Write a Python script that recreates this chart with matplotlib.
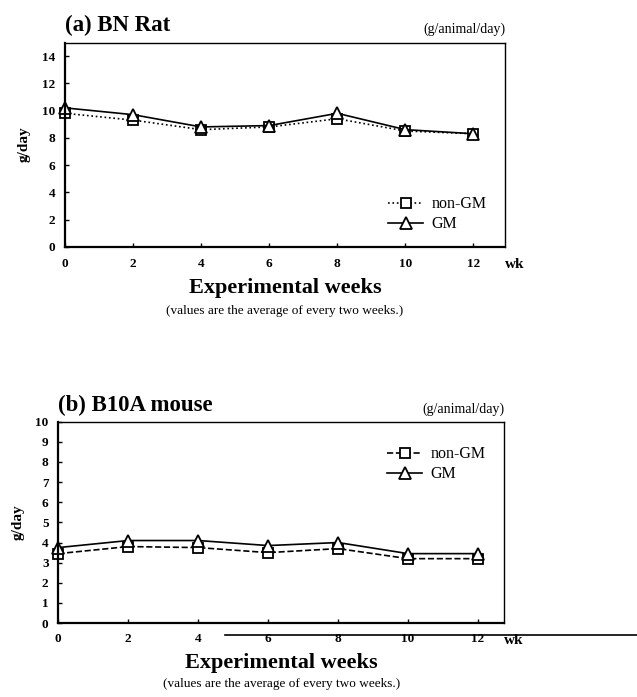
import matplotlib

matplotlib.use("Agg")

import matplotlib.pyplot as plt
from matplotlib.lines import Line2D

plt.rcParams["font.family"] = ["Liberation Serif", "DejaVu Serif"]

weeks = [0, 2, 4, 6, 8, 10, 12]

rat_non_gm = [9.8, 9.3, 8.6, 8.8, 9.4, 8.5, 8.3]
rat_gm = [10.2, 9.7, 8.8, 8.9, 9.8, 8.6, 8.3]

mouse_non_gm = [3.45, 3.8, 3.75, 3.5, 3.7, 3.2, 3.2]
mouse_gm = [3.75, 4.1, 4.1, 3.85, 4.0, 3.45, 3.45]

panels = [
    {
        "title": "(a) BN Rat",
        "rect": [0.102, 0.646, 0.691, 0.293],
        "ylim": (0, 15),
        "yticks": list(range(0, 15, 2)),
        "xlim": (0, 12.93),
        "non_gm": rat_non_gm,
        "gm": rat_gm,
        "non_style": ":",
        "legend_loc": "lower right",
        "legend_anchor": (0.99, 0.0),
        "xpad": 8,
        "labelpad": 6,
        "note_y": -0.315,
    },
    {
        "title": "(b) B10A mouse",
        "rect": [0.0915, 0.106, 0.700, 0.289],
        "ylim": (0, 10),
        "yticks": list(range(0, 11)),
        "xlim": (0, 12.75),
        "non_gm": mouse_non_gm,
        "gm": mouse_gm,
        "non_style": "--",
        "legend_loc": "upper right",
        "legend_anchor": (0.99, 0.95),
        "xpad": 7,
        "labelpad": 6,
        "note_y": -0.3,
    },
]

fig = plt.figure(figsize=(6.37, 6.97), dpi=100)
fig.patch.set_facecolor("white")

for panel in panels:
    ax = fig.add_axes(panel["rect"])
    ax.plot(
        weeks,
        panel["non_gm"],
        linestyle=panel["non_style"],
        color="black",
        linewidth=1.2,
        marker="s",
        markersize=7,
        markerfacecolor="white",
        markeredgewidth=1.3,
        label="non-GM",
        clip_on=False,
    )
    ax.plot(
        weeks,
        panel["gm"],
        linestyle="-",
        color="black",
        linewidth=1.2,
        marker="^",
        markersize=8,
        markerfacecolor="white",
        markeredgewidth=1.3,
        label="GM",
        clip_on=False,
    )

    ax.set_xlim(*panel["xlim"])
    ax.set_ylim(*panel["ylim"])
    ax.set_xticks(weeks)
    ax.set_yticks(panel["yticks"])
    ax.tick_params(direction="in", length=3, width=1, labelsize=9.5)
    ax.tick_params(axis="x", pad=panel["xpad"])
    ax.tick_params(axis="y", pad=7)
    for label in ax.get_xticklabels() + ax.get_yticklabels():
        label.set_fontweight("bold")

    for side in ["left", "bottom"]:
        ax.spines[side].set_linewidth(1.6)
    for side in ["top", "right"]:
        ax.spines[side].set_linewidth(1.0)

    ax.set_ylabel("g/day", fontsize=11, fontweight="bold", labelpad=8)
    ax.set_xlabel("Experimental weeks", fontsize=16, fontweight="bold",
                  labelpad=panel["labelpad"])

    ax.text(0.0, 1.03, panel["title"], transform=ax.transAxes, fontsize=16.5,
            fontweight="bold", ha="left", va="bottom")
    ax.text(1.0, 1.03, "(g/animal/day)", transform=ax.transAxes, fontsize=10,
            ha="right", va="bottom")
    ax.text(1.0, -0.085, "wk", transform=ax.transAxes, fontsize=11,
            fontweight="bold", ha="left", va="center")
    ax.text(0.5, panel["note_y"], "(values are the average of every two weeks.)",
            transform=ax.transAxes, fontsize=9.5, ha="center", va="center")

    ax.legend(
        loc=panel["legend_loc"],
        bbox_to_anchor=panel["legend_anchor"],
        frameon=False,
        fontsize=11.5,
        handlelength=2.2,
        handletextpad=0.5,
        labelspacing=0.25,
    )

# scan artefact line across the lower panel's tick labels
fig.add_artist(Line2D([0.353, 1.0], [1 - 635 / 697, 1 - 635 / 697],
                      color="black", linewidth=1.2))

fig.savefig("out.png", dpi=100)
